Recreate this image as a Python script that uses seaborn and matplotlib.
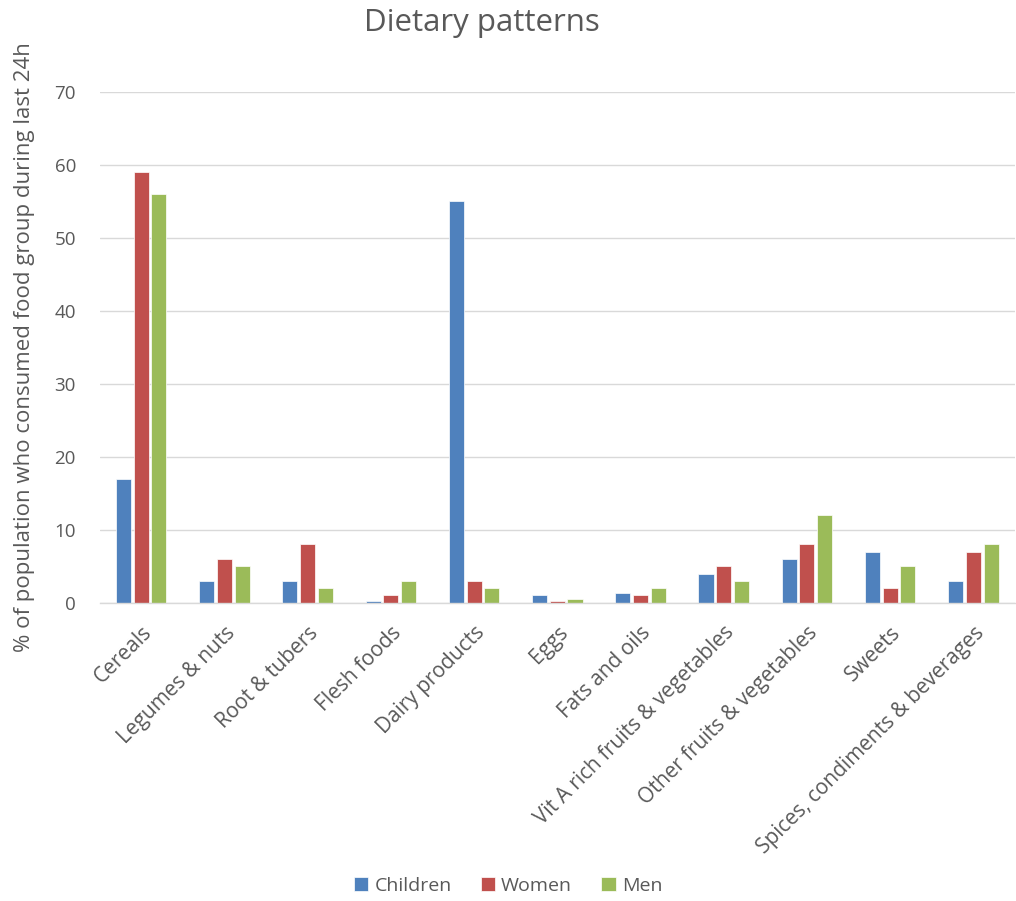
import matplotlib
matplotlib.use("Agg")
import matplotlib.pyplot as plt
import seaborn as sns
import pandas as pd

categories = ["Cereals", "Legumes & nuts", "Root & tubers", "Flesh foods", "Dairy products",
              "Eggs", "Fats and oils", "Vit A rich fruits & vegetables",
              "Other fruits & vegetables", "Sweets", "Spices, condiments & beverages"]
children = [17, 3, 3, 0.2, 55, 1, 1.3, 4, 6, 7, 3]
women = [59, 6, 8, 1, 3, 0.2, 1, 5, 8, 2, 7]
men = [56, 5, 2, 3, 2, 0.5, 2, 3, 12, 5, 8]
series = ["Children", "Women", "Men"]
colors = ["#4F81BD", "#C0504D", "#9BBB59"]

rows = []
for name, vals in zip(series, [children, women, men]):
    for c, v in zip(categories, vals):
        rows.append({"category": c, "group": name, "value": v})
df = pd.DataFrame(rows)

sns.set_theme(style="white")
plt.rcParams["font.family"] = ["Open Sans", "DejaVu Sans"]
text_color = "#595959"

fig = plt.figure(figsize=(10.16, 9.01), dpi=100)
ax = fig.add_axes([0.098, 0.331, 0.901, 0.567])
sns.barplot(data=df, x="category", y="value", hue="group", order=categories,
            hue_order=series, palette=colors, width=0.64, gap=0.15,
            saturation=1, ax=ax, legend=True, edgecolor="white", linewidth=0.5)

ax.set_ylim(0, 70)
ax.set_xlim(-0.5, len(categories) - 0.5)
ax.set_yticks(range(0, 71, 10))
ax.yaxis.grid(True, color="#D9D9D9", linewidth=1)
ax.set_axisbelow(True)
for s in ["top", "right", "left"]:
    ax.spines[s].set_visible(False)
ax.spines["bottom"].set_color("#D9D9D9")
ax.spines["bottom"].set_linewidth(1)
ax.tick_params(axis="both", length=0, colors=text_color, labelsize=13.5)
ax.tick_params(axis="y", pad=17)
ax.tick_params(axis="x", pad=14)
ax.set_xticks(range(len(categories)))
ax.set_xticklabels(categories, rotation=45, ha="right", rotation_mode="anchor", fontsize=15)
ax.set_xlabel("")
ax.set_ylabel("% of population who consumed food group during last 24h", fontsize=16,
              color=text_color, labelpad=14)
fig.text(0.474, 0.975, "Dietary patterns", ha="center", va="center", fontsize=22.5, color=text_color)

handles, labels = ax.get_legend_handles_labels()
ax.legend_.remove()
fig.legend(handles, labels, loc="center", bbox_to_anchor=(0.5, 0.017), ncol=3, frameon=False,
           fontsize=14, handlelength=0.75, handleheight=0.75, handletextpad=0.3, columnspacing=1.5,
           labelcolor=text_color)

fig.savefig("out.png", dpi=100)
